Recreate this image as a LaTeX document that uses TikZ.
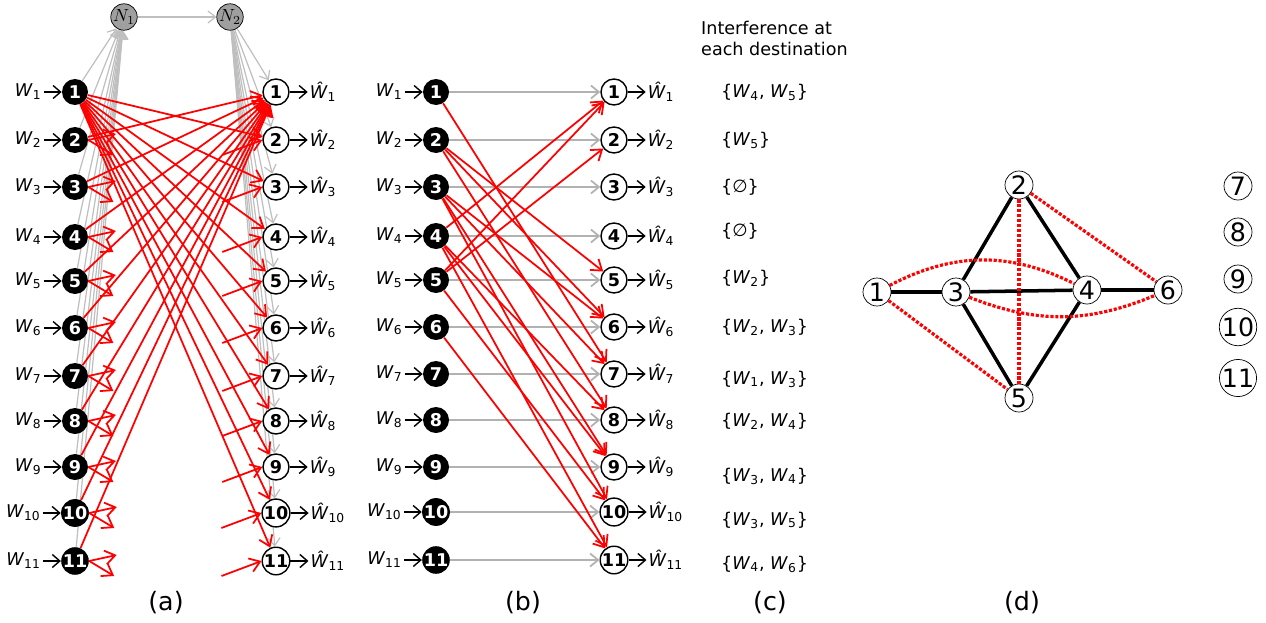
\documentclass[tikz,border=0pt]{standalone}
\usepackage{fontspec}
\setmainfont{DejaVu Sans}
\usepackage{xcolor}
\usepackage{tikz}
\usetikzlibrary{shapes,arrows.meta,positioning,calc,backgrounds}

\newcommand{\Wl}[1]{\textit{W}\textsubscript{#1}}
\newcommand{\Wh}[1]{\textit{\^W}\textsubscript{#1}}

\begin{document}
\begin{tikzpicture}[
    srcnode/.style={circle, fill=black, text=white, font=\bfseries, minimum size=0.52cm, inner sep=0pt},
    dstnode/.style={circle, draw, thick, fill=white, font=\bfseries, minimum size=0.52cm, inner sep=0pt},
    relaynode/.style={circle, draw, fill=gray!75, minimum size=0.48cm, inner sep=0pt},
    gnode/.style={circle, draw, fill=white, minimum size=0.56cm, inner sep=0pt, font=\Large},
    wlabel/.style={inner sep=1pt},
    inarr/.style={thick, -{Straight Barb[length=1.5mm,width=2.6mm]}},
    grayarr/.style={gray!50, line width=0.7pt, -{Straight Barb[length=1.5mm,width=2.4mm]}},
    directarr/.style={gray!60, line width=1pt, -{Straight Barb[length=1.6mm,width=2.6mm]}},
    redarr/.style={red, line width=1pt, -{Straight Barb[length=2mm,width=2.8mm]}},
    conn/.style={line width=2pt},
    intf/.style={red, densely dotted, line width=1.8pt}
]
\useasboundingbox (0,0) rectangle (25.32,-12.44);

% (a) relay network
\node[relaynode] (n1) at (2.48,-0.34) {$N_1$};
\node[relaynode] (n2) at (4.60,-0.34) {$N_2$};

\foreach \i/\y in {1/1.84,2/2.80,3/3.74,4/4.74,5/5.62,6/6.56,7/7.52,8/8.42,9/9.34,10/10.26,11/11.22} {
  \node[srcnode] (as\i) at (1.50,-\y) {\i};
  \node[dstnode] (ad\i) at (5.52,-\y) {\i};
  \node[wlabel, left=0.36cm of as\i] (aw\i) {\Wl{\i}};
  \node[wlabel, right=0.36cm of ad\i] (awh\i) {\Wh{\i}};
  \draw[inarr] (aw\i) -- (as\i);
  \draw[inarr] (ad\i) -- (awh\i);
}
\begin{scope}[on background layer]
\draw[grayarr] (n1) -- (n2);
\foreach \i in {1,...,11} {
  \draw[grayarr] (as\i) -- (n1);
  \draw[grayarr] (n2) -- (ad\i);
}
\foreach \j in {2,...,11} {
  \draw[redarr] (as1) -- (ad\j);
  \draw[redarr] (as\j) -- (ad1);
  % short stubs
  \draw[redarr] (as\j.east) -- ++(0.5,-0.3);
  \draw[redarr] (as\j.east) -- ++(0.55,0.12);
  \draw[redarr] ($(ad\j.west)+(-0.8,-0.3)$) -- (ad\j.west);
}
\end{scope}
\node at (3.32,-12.06) {\Large (a)};

% (b) direct links and interference
\foreach \i/\y in {1/1.84,2/2.80,3/3.74,4/4.72,5/5.60,6/6.54,7/7.48,8/8.40,9/9.34,10/10.24,11/11.20} {
  \node[srcnode] (bs\i) at (8.72,-\y) {\i};
  \node[dstnode] (bd\i) at (12.28,-\y) {\i};
  \node[wlabel, left=0.36cm of bs\i] (bw\i) {\Wl{\i}};
  \node[wlabel, right=0.36cm of bd\i] (bwh\i) {\Wh{\i}};
  \draw[inarr] (bw\i) -- (bs\i);
  \draw[inarr] (bd\i) -- (bwh\i);
  \draw[directarr] (bs\i) -- (bd\i);
}
\foreach \s/\d in {4/1,5/1,5/2,2/5,2/6,3/6,1/7,3/7,2/8,4/8,3/9,4/9,3/10,5/10,4/11,6/11}
  \draw[redarr] (bs\s) -- (bd\d);
\node at (10.46,-12.06) {\Large (b)};

% (c) interference sets
\node[anchor=west, align=left] (title) at (13.90,-0.76) {Interference at\\each destination};
\node[anchor=west] (c1) at (14.30,-1.84) {\{\Wl{4}, \Wl{5}\}};
\node[anchor=west] (c2) at (14.30,-2.80) {\{\Wl{5}\}};
\node[anchor=west] (c3) at (14.30,-3.74) {\{∅\}};
\node[anchor=west] (c4) at (14.30,-4.62) {\{∅\}};
\node[anchor=west] (c5) at (14.30,-5.56) {\{\Wl{2}\}};
\node[anchor=west] (c6) at (14.30,-6.54) {\{\Wl{2}, \Wl{3}\}};
\node[anchor=west] (c7) at (14.30,-7.58) {\{\Wl{1}, \Wl{3}\}};
\node[anchor=west] (c8) at (14.30,-8.42) {\{\Wl{2}, \Wl{4}\}};
\node[anchor=west] (c9) at (14.30,-9.52) {\{\Wl{3}, \Wl{4}\}};
\node[anchor=west] (c10) at (14.30,-10.40) {\{\Wl{3}, \Wl{5}\}};
\node[anchor=west] (c11) at (14.30,-11.28) {\{\Wl{4}, \Wl{6}\}};
\node at (15.40,-12.06) {\Large (c)};

% (d) conflict graph
\node[gnode] (g1) at (17.54,-5.84) {1};
\node[gnode] (g2) at (20.38,-3.70) {2};
\node[gnode] (g3) at (19.12,-5.84) {3};
\node[gnode] (g4) at (21.74,-5.80) {4};
\node[gnode] (g5) at (20.38,-7.96) {5};
\node[gnode] (g6) at (23.36,-5.80) {6};
\foreach \i/\y in {7/3.72,8/4.64,9/5.58,10/6.54,11/7.56}
  \node[gnode] (g\i) at (24.76,-\y) {\i};

\draw[conn] (g1) -- (g3);
\draw[conn] (g3) -- (g4);
\draw[conn] (g4) -- (g6);
\draw[conn] (g2) -- (g3);
\draw[conn] (g2) -- (g4);
\draw[conn] (g3) -- (g5);
\draw[conn] (g4) -- (g5);
\draw[intf] (g2) -- (g5);
\draw[intf] (g2) -- (g6);
\draw[intf] (g1) -- (g5);
\draw[intf] (g1) to[bend left=27] (g4);
\draw[intf] (g3) to[bend right=22] (g6);
\node at (20.44,-12.06) {\Large (d)};
\end{tikzpicture}
\end{document}
